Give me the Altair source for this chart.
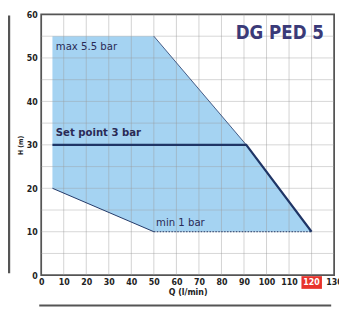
import altair as alt
import pandas as pd

# envelope
q_env = [5, 50, 91, 120]
h_max = [55, 55, 30, 10]
h_min = [20, 10, 10, 10]
# set point curve
q_set = [5, 91, 120]
h_set = [30, 30, 10]
# edges
q_upper_edge = [50, 91]
h_upper_edge = [55, 30]
q_lower_edge = [5, 50]
h_lower_edge = [20, 10]
q_min_edge = [50, 120]
h_min_edge = [10, 10]

x_ticks = list(range(0, 131, 10))
y_ticks = list(range(0, 61, 10))
x_grid = list(range(10, 130, 10))
y_grid = list(range(5, 60, 5))

FONT = "DejaVu Sans Condensed, Liberation Sans Narrow, Liberation Sans, sans-serif"
NAVY = "#1f3566"
TXT = "#2a2a55"

env = pd.DataFrame({"q": q_env, "hmax": h_max, "hmin": h_min})
setp = pd.DataFrame({"q": q_set, "h": h_set})
up = pd.DataFrame({"q": q_upper_edge, "h": h_upper_edge})
lo = pd.DataFrame({"q": q_lower_edge, "h": h_lower_edge})
mn = pd.DataFrame({"q": q_min_edge, "h": h_min_edge})
gx = pd.DataFrame({"q": x_grid})
gy = pd.DataFrame({"h": y_grid})

xs = alt.Scale(domain=[0, 130], nice=False)
ys = alt.Scale(domain=[0, 60], nice=False)

xaxis = alt.Axis(values=x_ticks, title="Q (l/min)", grid=False, ticks=False,
                 domain=False, labelOverlap=False,
                 labelExpr="datum.value != 120 ? datum.label : ''",
                 labelFont=FONT, labelFontWeight="bold", labelFontSize=9,
                 labelColor="#222", labelPadding=3, labelFlush=False,
                 titleFont=FONT, titleFontWeight="bold", titleFontSize=9,
                 titleColor="#222", titlePadding=1)
yaxis = alt.Axis(values=y_ticks, title="H (m)", grid=False, ticks=False,
                 domain=False, labelOverlap=False,
                 labelFont=FONT, labelFontWeight="bold", labelFontSize=9,
                 labelColor="#222", labelPadding=4,
                 titleFont=FONT, titleFontWeight="bold", titleFontSize=7,
                 titleColor="#222", titlePadding=3)

X = lambda f: alt.X(f, scale=xs, axis=xaxis)
Y = lambda f: alt.Y(f, scale=ys, axis=yaxis)

area = alt.Chart(env).mark_area(color="#a5d3f2", opacity=1).encode(
    x=X("q:Q"), y=Y("hmax:Q"), y2="hmin:Q")

grid_v = alt.Chart(gx).mark_rule(color="#9a9a9a", strokeWidth=0.9, opacity=0.5).encode(
    x=X("q:Q"))
grid_h = alt.Chart(gy).mark_rule(color="#9a9a9a", strokeWidth=0.9, opacity=0.45).encode(
    y=Y("h:Q"))

upl = alt.Chart(up).mark_line(color=NAVY, strokeWidth=0.8).encode(x=X("q:Q"), y=Y("h:Q"))
lol = alt.Chart(lo).mark_line(color=NAVY, strokeWidth=1).encode(x=X("q:Q"), y=Y("h:Q"))
mnl = alt.Chart(mn).mark_line(color=NAVY, strokeWidth=1, strokeDash=[1.5, 1.5]).encode(
    x=X("q:Q"), y=Y("h:Q"))
setl = alt.Chart(setp).mark_line(color=NAVY, strokeWidth=2.2).encode(x=X("q:Q"), y=Y("h:Q"))

def label(text, q, h, size=10, weight="normal", align="left", color=TXT):
    return alt.Chart(pd.DataFrame({"t": [text], "q": [q], "h": [h]})).mark_text(
        font=FONT, fontSize=size, fontWeight=weight, align=align,
        baseline="middle", color=color).encode(x=X("q:Q"), y=Y("h:Q"), text="t:N")

t_max = label("max 5.5 bar", 6.5, 52.4, size=11.5)
t_set = label("Set point 3 bar", 6.5, 32.6, size=11.5, weight="bold")
t_min = label("min 1 bar", 51, 11.9, size=11.5)
t_title = label("DG PED 5", 125.5, 55.6, size=19, weight="bold", align="right",
                color="#3a3a78")

hl = pd.DataFrame({"q0": [115.5], "q1": [124.6], "t": ["120"], "q": [120]})
red = alt.Chart(hl).mark_rect(color="#e8322b", clip=False).encode(
    x=X("q0:Q"), x2="q1:Q", y=alt.value(268), y2=alt.value(281))
red_t = alt.Chart(hl).mark_text(font=FONT, fontSize=9, fontWeight="bold",
                                color="white", baseline="middle", clip=False).encode(
    x=X("q:Q"), y=alt.value(274.5), text="t:N")

deco_v = alt.Chart(hl).mark_rule(color="#555", strokeWidth=2.5, clip=False).encode(
    x=alt.value(-33), y=alt.value(1), y2=alt.value(265))
deco_h = alt.Chart(hl).mark_rule(color="#555", strokeWidth=2, clip=False).encode(
    x=alt.value(-2), x2=alt.value(297), y=alt.value(298))

chart = alt.layer(area, grid_v, grid_h, upl, lol, mnl, setl, t_max, t_set, t_min,
                  t_title, red, red_t, deco_v, deco_h).properties(
    width=300, height=267,
    autosize=alt.AutoSizeParams(type="none"),
    padding={"left": 34, "top": 3, "right": 5, "bottom": 32},
    background="white",
).configure_view(stroke="#555", strokeWidth=1.8)

chart.save("out.html", embed_options={"renderer": "svg", "actions": False})
